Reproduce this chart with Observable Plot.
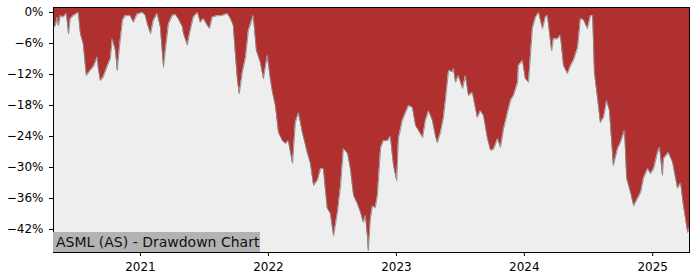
<!DOCTYPE html>
<html>
<head>
<meta charset="utf-8">
<script src="https://cdn.jsdelivr.net/npm/d3@7"></script>
<script src="https://cdn.jsdelivr.net/npm/@observablehq/plot@0.6"></script>
<style>
  body { margin: 0; background: white; }
  #wrap { position: relative; width: 700px; height: 280px; }
  #title {
    position: absolute; left: 53px; top: 232px; height: 20px; width: 207px;
    background: #b3b3b3; font-family: "DejaVu Sans", sans-serif; font-size: 14px;
    line-height: 20px; padding-left: 3px; box-sizing: border-box; color: #111;
    white-space: nowrap;
  }
</style>
</head>
<body>
<div id="wrap"><div id="title">ASML (AS) - Drawdown Chart</div></div>
<script>
const dates = [
"2020-04-28","2020-05-03","2020-05-09","2020-05-12","2020-05-18","2020-05-26","2020-06-04","2020-06-10","2020-06-15","2020-06-24",
"2020-07-08","2020-07-14","2020-07-22","2020-07-31","2020-08-11","2020-08-20","2020-08-31","2020-09-03","2020-09-09","2020-09-17",
"2020-09-29","2020-10-07","2020-10-13","2020-10-22","2020-10-27","2020-11-02","2020-11-11","2020-11-19","2020-12-03","2020-12-12",
"2020-12-23","2021-01-07","2021-01-15","2021-01-21","2021-01-30","2021-02-07","2021-02-18","2021-02-27","2021-03-08","2021-03-13",
"2021-03-22","2021-04-02","2021-04-11","2021-04-19","2021-05-01","2021-05-04","2021-05-15","2021-05-21","2021-06-01","2021-06-13",
"2021-06-21","2021-06-30","2021-07-11","2021-07-17","2021-07-25","2021-08-09","2021-08-23","2021-09-06","2021-09-15","2021-09-23",
"2021-09-29","2021-10-05","2021-10-10","2021-10-19","2021-10-28","2021-11-05","2021-11-19","2021-11-28","2021-12-09","2021-12-18",
"2021-12-29","2022-01-07","2022-01-13","2022-01-21","2022-01-30","2022-02-10","2022-02-19","2022-02-27","2022-03-11","2022-03-19",
"2022-03-28","2022-04-08","2022-04-22","2022-05-01","2022-05-10","2022-05-21","2022-05-30","2022-06-07","2022-06-18","2022-06-27",
"2022-07-06","2022-07-17","2022-07-26","2022-08-03","2022-08-15","2022-08-23","2022-09-01","2022-09-12","2022-09-21","2022-09-29",
"2022-10-05","2022-10-11","2022-10-13","2022-10-19","2022-10-25","2022-11-02","2022-11-08","2022-11-17","2022-11-25","2022-12-07",
"2022-12-15","2022-12-24","2023-01-02","2023-01-07","2023-01-18","2023-01-27","2023-02-05","2023-02-16","2023-02-25","2023-03-05",
"2023-03-17","2023-03-25","2023-04-03","2023-04-14","2023-04-23","2023-04-28","2023-05-07","2023-05-15","2023-05-21","2023-05-30",
"2023-06-10","2023-06-13","2023-06-19","2023-06-27","2023-07-09","2023-07-17","2023-07-26","2023-08-06","2023-08-15","2023-08-20",
"2023-08-29","2023-09-07","2023-09-18","2023-09-27","2023-10-05","2023-10-17","2023-10-25","2023-11-03","2023-11-14","2023-11-23",
"2023-12-01","2023-12-13","2023-12-15","2023-12-27","2024-01-04","2024-01-13","2024-01-24","2024-02-02","2024-02-11","2024-02-22",
"2024-03-01","2024-03-07","2024-03-19","2024-03-24","2024-04-05","2024-04-13","2024-04-22","2024-05-03","2024-05-12","2024-05-20",
"2024-06-01","2024-06-09","2024-06-18","2024-06-29","2024-07-08","2024-07-14","2024-07-19","2024-07-28","2024-08-05","2024-08-14",
"2024-08-23","2024-08-31","2024-09-11","2024-09-23","2024-10-01","2024-10-13","2024-10-19","2024-10-30","2024-11-08","2024-11-19",
"2024-11-28","2024-12-06","2024-12-18","2024-12-26","2025-01-04","2025-01-15","2025-01-21","2025-01-29","2025-02-01","2025-02-15",
"2025-02-27","2025-03-13","2025-03-22","2025-03-30","2025-04-11","2025-04-16"
];
const drawdown = [
-2.5,-2.7,-0.9,-2.5,-0.6,-0.9,-0.2,-4.1,-1.2,-0.6,
0,-4.1,-6.1,-12.2,-11.2,-10.5,-8.6,-10.8,-13.2,-12.5,
-10.3,-9,-5.1,-7.4,-11.2,-6.8,-1.5,-0.6,-0.6,-1.9,
-0.3,0,-0.6,-2.2,-4.1,-1.5,-0.2,-2.8,-10.6,-7.4,
-2.2,-0.6,-0.4,-1.2,-2.8,-4.1,-6.3,-4.1,-0.9,0,
-1.9,-1.2,-2.5,-3.1,-0.9,-0.6,-0.6,-0.2,-1.2,-2.5,
-8,-13.2,-15.7,-11.5,-8.6,-3.5,-0.6,-7.4,-9.6,-12.8,
-8.3,-13,-15.5,-18,-23.2,-24.8,-25.4,-24.8,-29.2,-21.3,
-19.4,-23.2,-27.1,-29.2,-33.5,-32.5,-30.2,-30.2,-37.9,-38.9,
-43.2,-38.7,-33.5,-26.3,-27.3,-30.2,-35.4,-37,-38.7,-40.6,
-39.3,-43.7,-46.1,-40,-37.4,-37.8,-35.4,-26.3,-24.8,-24.8,
-24,-29.6,-32.5,-24.4,-20.9,-19.4,-18,-18.4,-21.9,-22.8,
-24.2,-20.9,-19,-20.9,-24,-25.2,-23.2,-20.5,-17,-11.2,
-11.5,-10.8,-13.5,-12.2,-14.7,-12.2,-16.1,-15.5,-18.6,-20.3,
-19,-20,-24.4,-26.7,-26.5,-24.4,-26.1,-22.5,-19.4,-17,
-16.1,-13.5,-10.3,-9.3,-12.8,-13.5,-3.1,-0.9,0,-3.1,
-0.9,-0.6,-7.4,-5.1,-5.1,-4.4,-10.3,-11.8,-10.3,-9.3,
-6.8,-1.2,-1.4,-3.1,-0.6,-0.6,-11.6,-16.6,-21.3,-20.3,
-17,-19,-29.6,-26.3,-25.2,-22.8,-32.1,-34.8,-37.4,-36,
-34.8,-32.1,-30.2,-31.2,-30.2,-27.1,-26.1,-31.5,-28.3,-27.1,
-29,-34,-33,-37.4,-42.6,-41.6
];
const yTicks = [0, -6, -12, -18, -24, -30, -36, -42];
const xTickYears = ["2021-01-01", "2022-01-01", "2023-01-01", "2024-01-01", "2025-01-01"];

const data = dates.map((d, i) => ({date: new Date(d), dd: drawdown[i]}));
const yDomain = [-46.45, 0.97];
const yTop = yDomain[1];
const pct = v => (v < 0 ? "\u2212" : "") + Math.abs(v) + "%";

const chart = Plot.plot({
  width: 700, height: 280,
  marginLeft: 53, marginRight: 11, marginTop: 7, marginBottom: 28,
  style: {fontFamily: "'DejaVu Sans', sans-serif", fontSize: "12px", color: "black", background: "white"},
  x: {type: "utc", domain: d3.extent(data, d => d.date)},
  y: {domain: yDomain},
  marks: [
    Plot.frame({fill: "#eeeeee"}),
    Plot.areaY(data, {x: "date", y1: () => yTop, y2: "dd", fill: "#b03030"}),
    Plot.lineY(data, {x: "date", y: "dd", stroke: "#8a8a8a", strokeWidth: 0.9}),
    Plot.frame({stroke: "black", strokeWidth: 1}),
    Plot.axisY({ticks: yTicks, tickFormat: pct, tickSize: 4, tickPadding: 6, label: null, stroke: "black"}),
    Plot.axisX({ticks: xTickYears.map(s => new Date(s)), tickFormat: "%Y", tickSize: 4, tickPadding: 6, label: null, stroke: "black"})
  ]
});
document.getElementById("wrap").prepend(chart);
</script>
</body>
</html>
